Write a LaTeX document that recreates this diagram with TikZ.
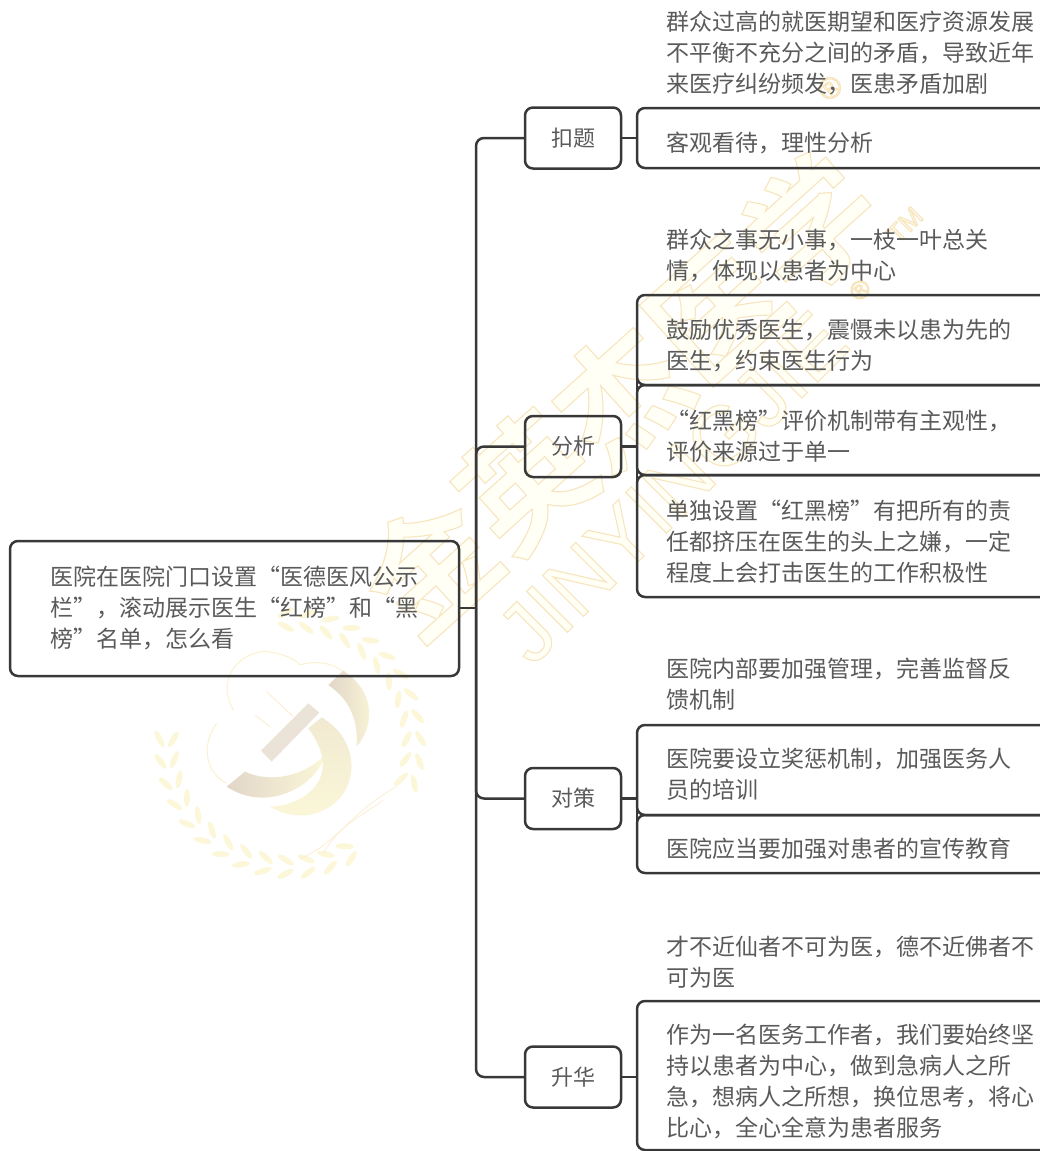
\documentclass[tikz,border=0pt]{standalone}
\usepackage{fontspec}
\usetikzlibrary{positioning}
\setmainfont{Noto Sans CJK SC}[BoldFont={Noto Sans CJK SC Bold}]
\newfontfamily\wmlatin{Liberation Sans}
\definecolor{ink}{HTML}{383838}
\definecolor{txt}{HTML}{5A5A5A}
\definecolor{wmline}{HTML}{F7E3B5}
\definecolor{wmpale}{HTML}{FBF7D8}
\definecolor{wmtan}{HTML}{E2D6C8}
\newcommand{\outlined}[1]{\special{pdf:code q 2 Tr 1.1 w 0.97 0.90 0.74 RG 1 1 0.965 rg}#1\special{pdf:code Q}}
\tikzset{
  every node/.style={inner sep=0pt,outer sep=0pt},
  boxline/.style={draw=ink,line width=2.5pt,rounded corners=8pt},
  leafbox/.style={boxline,minimum width=423pt,anchor=north west},
  branchbox/.style={boxline,minimum width=96pt,minimum height=61pt,text=txt,font=\fontsize{22}{28}\selectfont},
  rootbox/.style={boxline,minimum width=449pt,minimum height=135pt,anchor=north west},
  words/.style={text=txt,font=\fontsize{23}{30.8}\selectfont,align=left,anchor=west},
  link/.style={draw=ink,line width=2.5pt,rounded corners=8pt},
  wheat/.style={fill=wmpale,draw=none}
}
\begin{document}
\begin{tikzpicture}[x=1pt,y=-1pt]
\useasboundingbox (0,0) rectangle (1040,1151);
\clip (0,0) rectangle (1040,1151);
% watermark lettering
\node (wmcn) [rotate=42,font=\bfseries\fontsize{128}{128}\selectfont] at (620,395) {\outlined{金英杰医学}};
\node (wmen) [rotate=45,font=\wmlatin\fontsize{84}{84}\selectfont] at (672,487) {\outlined{JINYINGJIE}};
\node (wmr) [rotate=45,font=\wmlatin\fontsize{30}{30}\selectfont] at (830,88) {\outlined{®}};
\node (wmr2) [rotate=45,font=\wmlatin\fontsize{26}{26}\selectfont] at (860,290) {\outlined{®}};
\node (wmtm) [rotate=45,font=\wmlatin\fontsize{26}{26}\selectfont] at (905,225) {\outlined{TM}};
% watermark emblem
\begin{scope}[shift={(0,520)},x=0.3333pt,y=-0.3333pt]
  % right branch of the wreath
  \foreach \a in {-92,-82,...,18}{
    \fill[wheat,shift={({870+392*cos(\a)},{670+392*sin(\a)})},rotate={120-\a}] (0,0) ellipse [x radius=27,y radius=9];
    \fill[wheat,shift={({870+350*cos(\a)},{670+350*sin(\a)})},rotate={60-\a}] (0,0) ellipse [x radius=27,y radius=9];
  }
  % left branch of the wreath
  \foreach \a in {62,72,...,182}{
    \fill[wheat,shift={({870+392*cos(\a)},{670+392*sin(\a)})},rotate={-60-\a}] (0,0) ellipse [x radius=27,y radius=9];
    \fill[wheat,shift={({870+350*cos(\a)},{670+350*sin(\a)})},rotate={-120-\a}] (0,0) ellipse [x radius=27,y radius=9];
  }
  \draw[wmline!60,line width=0.8pt] (900,1015) .. controls (1000,980) and (1060,870) .. (1190,800);
  \draw[wmline!60,line width=0.8pt] (970,1000) .. controls (1020,910) and (1100,880) .. (1150,840);
  \draw[wmpale!70!wmline,line width=1pt] (700,570) .. controls (640,460) and (740,390) .. (800,395) .. controls (850,400) and (890,420) .. (900,435);
  \draw[wmpale!70!wmline,line width=1pt] (650,610) .. controls (600,680) and (620,760) .. (680,790);
  \draw[wmpale!70!wmline,line width=1pt] (900,435) .. controls (950,420) and (1000,430) .. (1030,455);
  \fill[wmtan!70] (925,550) -- (958,578) -- (815,725) -- (783,692) -- cycle;
  \draw[wmline!70,line width=0.8pt] (800,515) -- (880,590) (765,585) -- (810,620);
  \shade[left color=wmtan,right color=wmpale] (680,800) -- (735,755) .. controls (810,790) and (910,770) .. (975,705) .. controls (950,800) and (800,880) .. (680,800) -- cycle;
  \shade[left color=wmtan,right color=wmpale] (985,495) -- (1030,452) .. controls (1120,510) and (1130,610) .. (1070,680) .. controls (1075,600) and (1050,540) .. (985,495) -- cycle;
  \shade[top color=wmpale!60!wmtan,bottom color=wmpale] (925,625) -- (965,592) .. controls (1080,660) and (1080,800) .. (990,860) .. controls (930,900) and (860,890) .. (810,860) .. controls (900,860) and (1040,780) .. (925,625) -- cycle;
\end{scope}
% root
\node (root) [rootbox] at (10,541) {};
\node (roottext) [words] at (50,608) {医院在医院门口设置“医德医风公示\\栏”，滚动展示医生“红榜”和“黑\\榜”名单，怎么看};
% branches
\node (koti) [branchbox] at (573,138) {扣题};
\node (fenxi) [branchbox] at (573,446.5) {分析};
\node (duice) [branchbox] at (573,798.5) {对策};
\node (shenghua) [branchbox] at (573,1077) {升华};
% trunk
\coordinate (trunk) at (476,608);
\draw[link] (root.east |- trunk) -- (trunk);
\draw[link] (trunk) |- (koti.west);
\draw[link] (trunk) |- (fenxi.west);
\draw[link] (trunk) |- (duice.west);
\draw[link] (trunk) |- (shenghua.west);
% group 1
\node (a0) [words] at (666,53) {群众过高的就医期望和医疗资源发展\\不平衡不充分之间的矛盾，导致近年\\来医疗纠纷频发，医患矛盾加剧};
\node (a1) [leafbox,minimum height=60pt] at (637,108) {};
\node (a1t) [words] at (666,143) {客观看待，理性分析};
% group 2
\node (b0) [words] at (666,255.5) {群众之事无小事，一枝一叶总关\\情，体现以患者为中心};
\node (b1) [leafbox,minimum height=90pt] at (637,295) {};
\node (b1t) [words] at (666,345.5) {鼓励优秀医生，震慑未以患为先的\\医生，约束医生行为};
\node (b2) [leafbox,minimum height=90pt] at (637,385) {};
\node (b2t) [words] at (666,436.5) {“红黑榜”评价机制带有主观性，\\评价来源过于单一};
\node (b3) [leafbox,minimum height=122pt] at (637,475) {};
\node (b3t) [words] at (666,541.5) {单独设置“红黑榜”有把所有的责\\任都挤压在医生的头上之嫌，一定\\程度上会打击医生的工作积极性};
\draw[draw=ink,line width=2.5pt] (b1.west) -- (b3.west);
% group 3
\node (c0) [words] at (666,684.5) {医院内部要加强管理，完善监督反\\馈机制};
\node (c1) [leafbox,minimum height=90pt] at (637,725) {};
\node (c1t) [words] at (666,774.5) {医院要设立奖惩机制，加强医务人\\员的培训};
\node (c2) [leafbox,minimum height=58pt] at (637,815) {};
\node (c2t) [words] at (666,849) {医院应当要加强对患者的宣传教育};
\draw[draw=ink,line width=2.5pt] (c1.west) -- (c2.west);
% group 4
\node (d0) [words] at (666,962.5) {才不近仙者不可为医，德不近佛者不\\可为医};
\node (d1) [leafbox,minimum height=149pt] at (637,1001) {};
\node (d1t) [words] at (666,1081.5) {作为一名医务工作者，我们要始终坚\\持以患者为中心，做到急病人之所\\急，想病人之所想，换位思考，将心\\比心，全心全意为患者服务};
% branch to leaf links
\draw[link] (koti.east) -- (koti.east -| a1.west);
\draw[link] (fenxi.east) -- (fenxi.east -| b2.west);
\draw[link] (duice.east) -- (duice.east -| c1.west);
\draw[link] (shenghua.east) -- (shenghua.east -| d1.west);
\end{tikzpicture}
\end{document}
